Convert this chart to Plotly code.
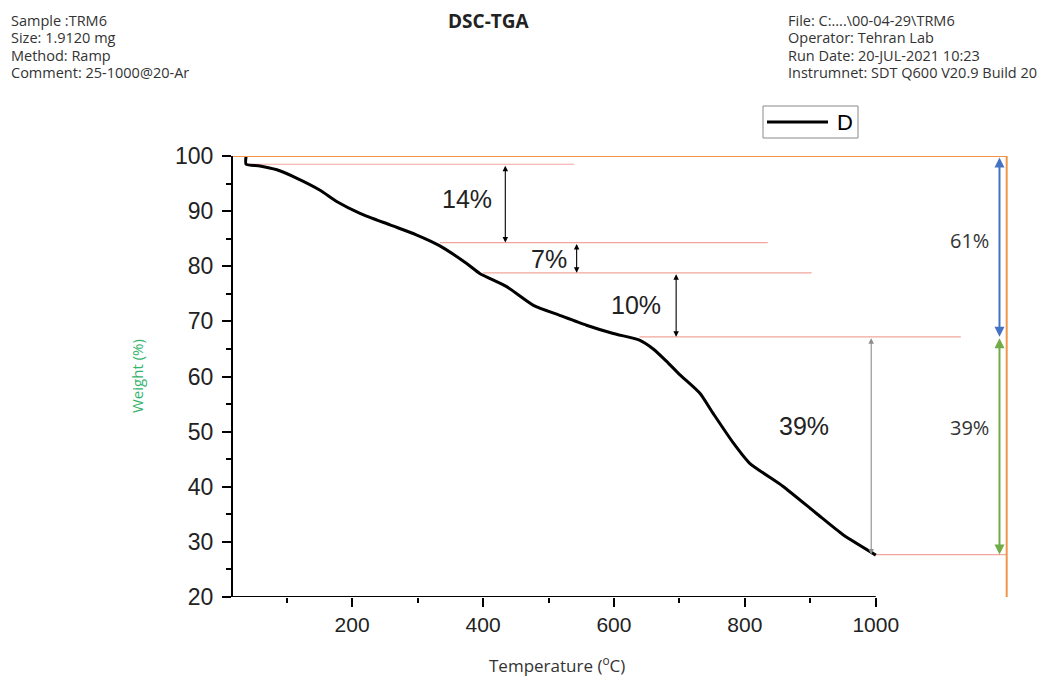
import plotly.graph_objects as go

# ---- TGA curve (temperature in degC, remaining weight in %) ----
temperature = [38, 38, 59, 85, 115, 151, 177, 212, 258, 298, 334, 375, 395, 436,
               477, 517, 558, 599, 639, 660, 680, 700, 731, 751, 782, 807, 858,
               909, 950, 996, 1000]
weight = [100, 98.5, 98.2, 97.5, 96.0, 93.8, 91.7, 89.6, 87.5, 85.7, 83.7, 80.5,
          78.7, 76.3, 72.9, 71.1, 69.3, 67.8, 66.6, 65.0, 62.8, 60.4, 57.0, 53.4,
          48.0, 44.3, 40.1, 35.2, 31.3, 27.9, 27.6]

# ---- plateau guide lines ----
level_values = [98.5, 84.3, 78.8, 67.2, 27.7]
level_start = [38, 334, 400, 639, 1000]
level_end = [539, 835, 902, 1130, 1200]

# ---- stepwise mass-loss arrows ----
step_x = [434, 543, 695, 993]
step_labels = ["14%", "7%", "10%", "39%"]
step_label_x = [376, 500, 633, 890]
step_label_y = [92.2, 81.3, 73.0, 51.0]
step_colors = ["black", "black", "black", "#8c8c8c"]

# ---- overall losses on the right ----
total_x = 1189
total_levels = [100, 67.2, 27.7]
total_labels = ["61%", "39%"]
total_colors = ["#4472c4", "#70ad47"]
total_label_x = 1143
total_label_y = [84.6, 50.8]

frame_x = 1200
frame_top = 100

x_ticks = [200, 400, 600, 800, 1000]
x_minor = [100, 300, 500, 700, 900]
y_ticks = [20, 30, 40, 50, 60, 70, 80, 90, 100]

# plot area in pixels
L, R, T, B = 233, 1008, 156, 597
W_PX, H_PX = 1044, 679


def px(xp):
    return (xp - L) / (R - L)


def py(yp):
    return (B - yp) / (B - T)


fig = go.Figure()

fig.add_trace(go.Scatter(
    x=temperature, y=weight, mode="lines", name="D",
    line=dict(color="black", width=3, shape="spline", smoothing=0.6),
    showlegend=False,
))

shapes = []
# guide lines
for v, a, b in zip(level_values, level_start, level_end):
    shapes.append(dict(type="line", xref="x", yref="y", x0=a, x1=b, y0=v, y1=v,
                       line=dict(color="#f2a59c", width=1.2), layer="below"))
# orange frame
shapes.append(dict(type="line", xref="x", yref="y", x0=18, x1=frame_x,
                   y0=frame_top, y1=frame_top, line=dict(color="#f0954a", width=2)))
shapes.append(dict(type="line", xref="x", yref="y", x0=frame_x, x1=frame_x,
                   y0=20, y1=frame_top, line=dict(color="#f0954a", width=2)))
# bottom axis line (ends at 1000)
shapes.append(dict(type="line", xref="x", yref="y", x0=18, x1=1000, y0=20, y1=20,
                   line=dict(color="black", width=2)))
# legend box
shapes.append(dict(type="rect", xref="paper", yref="paper",
                   x0=px(763), x1=px(858), y0=py(138), y1=py(106),
                   line=dict(color="#8a8a8a", width=1), fillcolor="white"))
shapes.append(dict(type="line", xref="paper", yref="paper",
                   x0=px(767), x1=px(828), y0=py(122), y1=py(122),
                   line=dict(color="black", width=3)))

annotations = []
# step arrows
for i, xv in enumerate(step_x):
    annotations.append(dict(
        x=xv, y=level_values[i + 1], ax=xv, ay=level_values[i],
        xref="x", yref="y", axref="x", ayref="y", text="", showarrow=True,
        arrowhead=2, startarrowhead=2, arrowside="end+start",
        arrowsize=1, startarrowsize=1, arrowwidth=1.1,
        arrowcolor=step_colors[i]))
    annotations.append(dict(
        x=step_label_x[i], y=step_label_y[i], xref="x", yref="y",
        text=step_labels[i], showarrow=False, xanchor="center", yanchor="middle",
        font=dict(family="Liberation Sans, Arial", size=25, color="#222")))
# overall arrows
for i in range(2):
    annotations.append(dict(
        x=total_x, y=total_levels[i + 1], ax=total_x, ay=total_levels[i],
        xref="x", yref="y", axref="x", ayref="y", text="", showarrow=True,
        arrowhead=2, startarrowhead=2, arrowside="end+start",
        arrowsize=1, startarrowsize=1, arrowwidth=2,
        arrowcolor=total_colors[i]))
    annotations.append(dict(
        x=total_label_x, y=total_label_y[i], xref="x", yref="y",
        text=total_labels[i], showarrow=False, xanchor="center", yanchor="middle",
        font=dict(family="Open Sans", size=20, color="#333")))

# legend text
annotations.append(dict(x=px(835), y=py(122), xref="paper", yref="paper",
                        text="D", showarrow=False, xanchor="left", yanchor="middle",
                        font=dict(family="Liberation Sans, Arial", size=22, color="black")))

# header blocks
hdr_font = dict(family="Open Sans", size=14.5, color="#333")
left_lines = ["Sample :TRM6", "Size: 1.9120 mg", "Method: Ramp", "Comment: 25-1000@20-Ar"]
right_lines = ["File: C:....\\00-04-29\\TRM6", "Operator: Tehran Lab",
               "Run Date: 20-JUL-2021 10:23", "Instrumnet: SDT Q600 V20.9 Build 20"]
for k, (ltxt, rtxt) in enumerate(zip(left_lines, right_lines)):
    yy = py(20.5 + 17.3 * k)
    annotations.append(dict(x=px(9), y=yy, xref="paper", yref="paper", text=ltxt,
                            showarrow=False, xanchor="left", yanchor="middle",
                            font=hdr_font))
    annotations.append(dict(x=px(786), y=yy, xref="paper", yref="paper", text=rtxt,
                            showarrow=False, xanchor="left", yanchor="middle",
                            font=hdr_font))
annotations.append(dict(x=px(489), y=py(21), xref="paper", yref="paper",
                        text="<b>DSC-TGA</b>", showarrow=False,
                        xanchor="center", yanchor="middle",
                        font=dict(family="Open Sans", size=19, color="#222")))

# axis titles
annotations.append(dict(x=px(557), y=py(664), xref="paper", yref="paper",
                        text="Temperature (<sup>o</sup>C)", showarrow=False,
                        xanchor="center", yanchor="middle",
                        font=dict(family="Open Sans", size=17, color="#333")))
annotations.append(dict(x=px(137), y=py(376), xref="paper", yref="paper",
                        text="Weight (%)", showarrow=False, textangle=-90,
                        xanchor="center", yanchor="middle",
                        font=dict(family="Open Sans", size=15, color="#33b36b")))

fig.update_layout(
    width=W_PX, height=H_PX,
    margin=dict(l=L, r=W_PX - R, t=T, b=H_PX - B),
    paper_bgcolor="white", plot_bgcolor="white",
    shapes=shapes, annotations=annotations,
    xaxis=dict(range=[18, 1202], showgrid=False, zeroline=False, showline=False,
               tickmode="array", tickvals=x_ticks, ticks="outside", ticklen=9,
               tickwidth=2, tickcolor="black",
               minor=dict(tickmode="array", tickvals=x_minor, ticks="outside",
                          ticklen=5, tickwidth=2, tickcolor="black", showgrid=False),
               tickfont=dict(family="Liberation Sans, Arial", size=21, color="#222")),
    yaxis=dict(range=[20, 100], showgrid=False, zeroline=False, showline=True,
               linecolor="black", linewidth=2,
               tickmode="array", tickvals=y_ticks, ticks="outside", ticklen=9,
               tickwidth=2, tickcolor="black", ticklabelstandoff=4,
               minor=dict(dtick=5, ticks="outside", ticklen=5, tickwidth=2,
                          tickcolor="black", showgrid=False),
               tickfont=dict(family="Liberation Sans, Arial", size=23, color="#222")),
)

fig.write_html("out.html")
